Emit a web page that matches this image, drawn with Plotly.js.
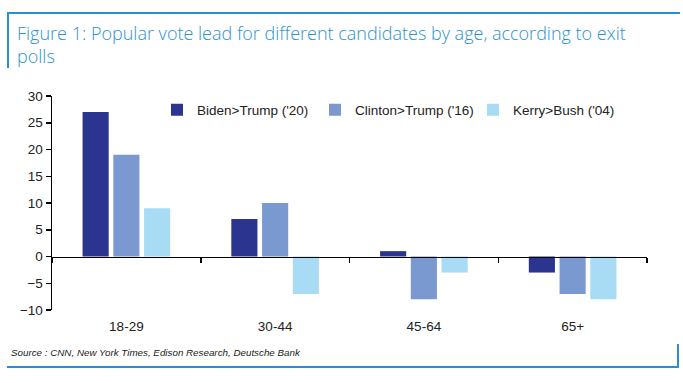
<!DOCTYPE html>
<html>
<head>
<meta charset="utf-8">
<script src="https://cdn.plot.ly/plotly-3.0.1.min.js"></script>
<style>
html,body{margin:0;padding:0;background:#fff;}
#wrap{position:relative;width:683px;height:383px;}
#chart{position:absolute;left:0;top:0;width:683px;height:383px;}
.ln{position:absolute;background:#2a8fd0;}
</style>
</head>
<body>
<div id="wrap">
<div id="chart"></div>
<div class="ln" style="left:7px;top:12px;width:673px;height:2px;"></div>
<div class="ln" style="left:7px;top:12px;width:2px;height:56px;"></div>
<div class="ln" style="left:7px;top:366px;width:672px;height:2px;"></div>
<div class="ln" style="left:677px;top:344px;width:2px;height:24px;"></div>
</div>
<script>
const categories = ["18-29", "30-44", "45-64", "65+"];
const seriesNames = ["Biden>Trump ('20)", "Clinton>Trump ('16)", "Kerry>Bush ('04)"];
const biden = [27, 7, 1, -3];
const clinton = [19, 10, -8, -7];
const kerry = [9, -7, -3, -8];
const yTicks = [-10, -5, 0, 5, 10, 15, 20, 25, 30];
const yRange = [-10, 30];
const titleLines = ["Figure 1: Popular vote lead for different candidates by age, according to exit", "polls"];
const sourceText = "Source : CNN, New York Times, Edison Research, Deutsche Bank";
const colors = ["#2b358f", "#7a99d0", "#a7dcf4"];

const values = [biden, clinton, kerry];
const traces = values.map((v, i) => ({
  type: "bar",
  name: seriesNames[i],
  x: categories,
  y: v,
  marker: {color: colors[i], line: {width: 0}},
  hoverinfo: "skip"
}));

const zeroPos = (0 - yRange[0]) / (yRange[1] - yRange[0]);
const PL = 52, PW = 595, PB = 310, PH = 214;
const px = x => (x - PL) / PW;
const py = y => (PB - y) / PH;

const titleFont = {family: "Open Sans, Roboto, sans-serif", size: 18, color: "#2a93cf", weight: 300};

const layout = {
  width: 683, height: 383,
  margin: {l: 52, r: 36, t: 96, b: 73},
  paper_bgcolor: "#fff", plot_bgcolor: "#fff",
  font: {family: "Liberation Sans, Arial, sans-serif", size: 13.5, color: "#222"},
  barmode: "group",
  bargap: 0.38,
  bargroupgap: 0.15,
  showlegend: true,
  legend: {
    orientation: "h", x: px(157), y: py(110), xanchor: "left", yanchor: "middle",
    font: {size: 13.5, color: "#222"}, entrywidth: 113, entrywidthmode: "pixels",
    itemwidth: 30, tracegroupgap: 0, bgcolor: "rgba(0,0,0,0)"
  },
  xaxis: {
    type: "category",
    anchor: "free", position: zeroPos,
    showline: true, linecolor: "#000", linewidth: 1.5,
    ticks: "outside", tickson: "boundaries", ticklen: 5, tickwidth: 1.5, tickcolor: "#000",
    ticklabelstandoff: 57,
    showgrid: false, zeroline: false,
    tickfont: {size: 13.5, color: "#222"}
  },
  yaxis: {
    range: yRange, tickvals: yTicks,
    showline: true, linecolor: "#000", linewidth: 1.5,
    ticks: "outside", ticklen: 5, tickwidth: 1.5, tickcolor: "#000",
    showgrid: false, zeroline: false,
    tickfont: {size: 13.5, color: "#222"}
  },
  annotations: [
    {text: titleLines[0], xref: "paper", yref: "paper", x: px(15), y: py(33),
     xanchor: "left", yanchor: "middle", showarrow: false, font: titleFont},
    {text: titleLines[1], xref: "paper", yref: "paper", x: px(15), y: py(56),
     xanchor: "left", yanchor: "middle", showarrow: false, font: titleFont},
    {text: sourceText, xref: "paper", yref: "paper", x: px(9), y: py(352),
     xanchor: "left", yanchor: "middle", showarrow: false,
     font: {size: 9.8, style: "italic", color: "#222"}}
  ]
};

Plotly.newPlot("chart", traces, layout, {displayModeBar: false, staticPlot: true});
</script>
</body>
</html>
